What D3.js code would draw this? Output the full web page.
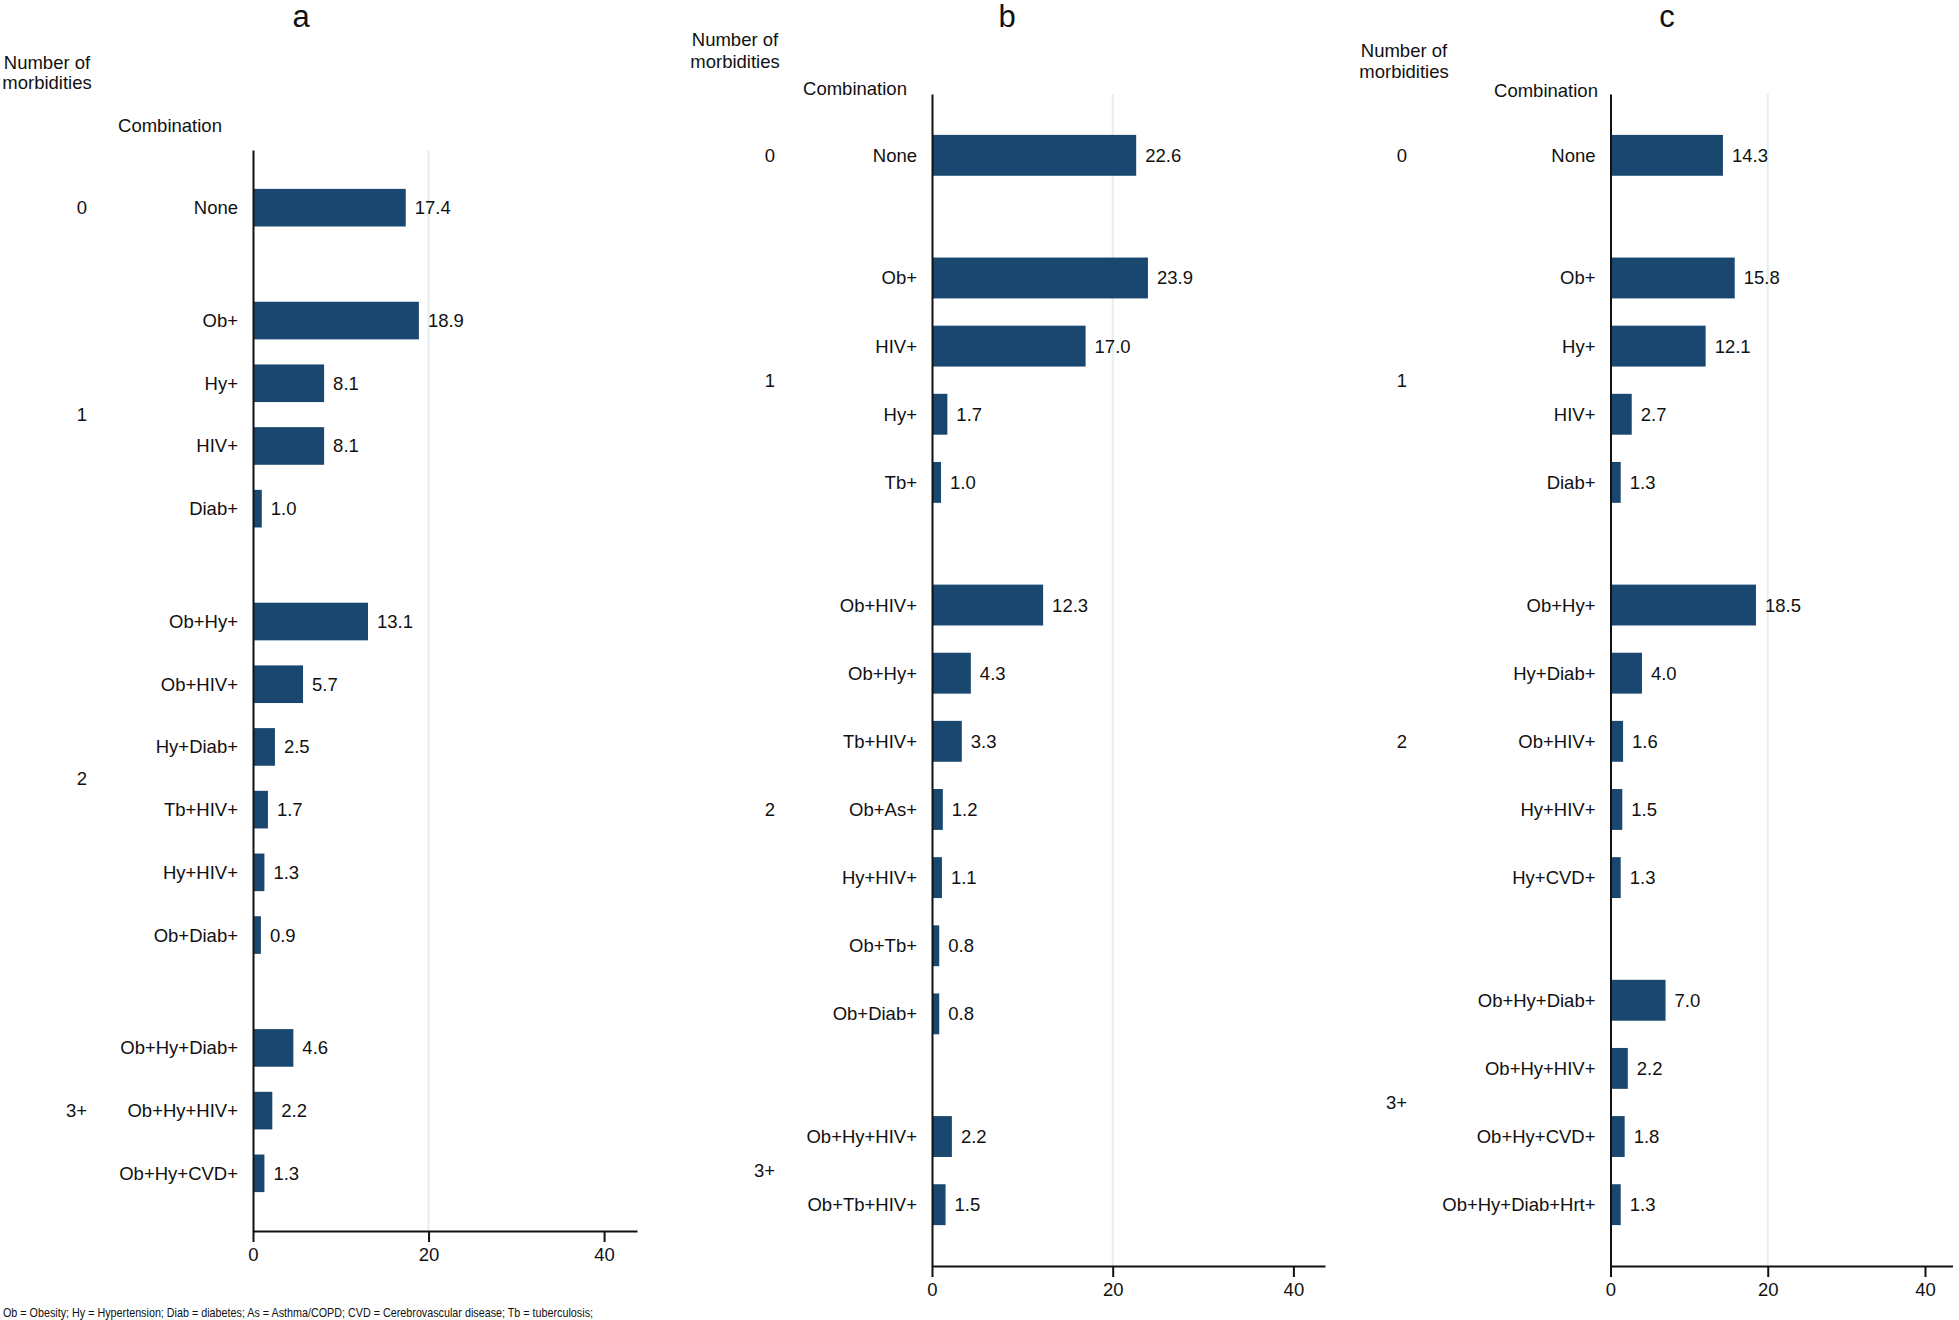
<!DOCTYPE html>
<html><head><meta charset="utf-8">
<script src="https://cdn.jsdelivr.net/npm/d3@7"></script>
<style>
body{margin:0;background:#fff}
svg{display:block}
text{font-family:"Liberation Sans",Arial,Helvetica,sans-serif;fill:#111}
</style>
</head><body>
<svg id="chart" width="1959" height="1320"></svg>
<script>
// ---------- data ----------
const groupLabels = ["0", "1", "2", "3+"];
const xTicks = [0, 20, 40];

const aCombos = ["None", "Ob+", "Hy+", "HIV+", "Diab+", "Ob+Hy+", "Ob+HIV+", "Hy+Diab+", "Tb+HIV+", "Hy+HIV+", "Ob+Diab+", "Ob+Hy+Diab+", "Ob+Hy+HIV+", "Ob+Hy+CVD+"];
const aGroups = [0, 1, 1, 1, 1, 2, 2, 2, 2, 2, 2, 3, 3, 3];
const aValues = [17.4, 18.9, 8.1, 8.1, 1.0, 13.1, 5.7, 2.5, 1.7, 1.3, 0.9, 4.6, 2.2, 1.3];

const bCombos = ["None", "Ob+", "HIV+", "Hy+", "Tb+", "Ob+HIV+", "Ob+Hy+", "Tb+HIV+", "Ob+As+", "Hy+HIV+", "Ob+Tb+", "Ob+Diab+", "Ob+Hy+HIV+", "Ob+Tb+HIV+"];
const bGroups = [0, 1, 1, 1, 1, 2, 2, 2, 2, 2, 2, 2, 3, 3];
const bValues = [22.6, 23.9, 17.0, 1.7, 1.0, 12.3, 4.3, 3.3, 1.2, 1.1, 0.8, 0.8, 2.2, 1.5];

const cCombos = ["None", "Ob+", "Hy+", "HIV+", "Diab+", "Ob+Hy+", "Hy+Diab+", "Ob+HIV+", "Hy+HIV+", "Hy+CVD+", "Ob+Hy+Diab+", "Ob+Hy+HIV+", "Ob+Hy+CVD+", "Ob+Hy+Diab+Hrt+"];
const cGroups = [0, 1, 1, 1, 1, 2, 2, 2, 2, 2, 3, 3, 3, 3];
const cValues = [14.3, 15.8, 12.1, 2.7, 1.3, 18.5, 4.0, 1.6, 1.5, 1.3, 7.0, 2.2, 1.8, 1.3];

const panelTitles = ["a", "b", "c"];
const headerNumber = ["Number of", "morbidities"];
const headerCombination = "Combination";
const footnote = "Ob = Obesity; Hy = Hypertension; Diab = diabetes; As = Asthma/COPD; CVD = Cerebrovascular disease; Tb = tuberculosis;";

// ---------- layout ----------
const BAR = "#1a476f";
const GRID = "#e2eeef";
const FS = 18.5;

const layouts = [
  {x0: 253, x1: 637, xMax: 43.75, yTop: 150, yBot: 1231, pad: 0.92,
   titleX: 301, titleY: 16, numX: 47, numY: [63, 83], combX: 170, combY: 126, grpX: 87},
  {x0: 932, x1: 1325, xMax: 43.5, yTop: 94, yBot: 1266, pad: 0.9,
   titleX: 1007, titleY: 16, numX: 735, numY: [40, 62], combX: 855, combY: 89, grpX: 775},
  {x0: 1610.5, x1: 1952.5, xMax: 43.5, yTop: 94, yBot: 1266, pad: 0.9,
   titleX: 1667, titleY: 16, numX: 1404, numY: [51, 72], combX: 1546, combY: 91, grpX: 1407}
];
const GAP = 0.8;   // extra space between groups, in row units

const svg = d3.select("#chart");

function drawPanel(L, title, combos, groups, values) {
  const g = svg.append("g");
  const rows = combos.map((c, i) => ({combo: c, group: groups[i], value: values[i], pos: i + GAP * groups[i]}));
  const maxPos = d3.max(rows, d => d.pos);

  const x = d3.scaleLinear().domain([0, L.xMax]).range([L.x0, L.x1]);
  const y = d3.scaleLinear().domain([-L.pad, maxPos + L.pad]).range([L.yTop, L.yBot]);
  const unit = y(1) - y(0);
  const bh = unit * 0.6;

  // gridline(s)
  g.selectAll("line.grid").data(xTicks.filter(t => t > 0 && t < 30)).join("line")
    .attr("x1", d => x(d)).attr("x2", d => x(d))
    .attr("y1", L.yTop).attr("y2", L.yBot)
    .attr("stroke", GRID).attr("stroke-width", 2);

  // bars
  g.selectAll("rect.bar").data(rows).join("rect")
    .attr("x", x(0)).attr("y", d => y(d.pos) - bh / 2)
    .attr("width", d => x(d.value) - x(0)).attr("height", bh)
    .attr("fill", BAR);

  // value labels
  g.selectAll("text.val").data(rows).join("text")
    .attr("x", d => x(d.value) + 9).attr("y", d => y(d.pos))
    .attr("dy", "0.35em").attr("font-size", FS)
    .text(d => d3.format(".1f")(d.value));

  // category labels
  g.selectAll("text.cat").data(rows).join("text")
    .attr("x", x(0) - 15).attr("y", d => y(d.pos))
    .attr("dy", "0.35em").attr("text-anchor", "end").attr("font-size", FS)
    .text(d => d.combo);

  // group labels
  const grp = d3.groups(rows, d => d.group).map(([k, arr]) => ({
    label: groupLabels[k],
    pos: (d3.min(arr, d => d.pos) + d3.max(arr, d => d.pos)) / 2
  }));
  g.selectAll("text.grp").data(grp).join("text")
    .attr("x", L.grpX).attr("y", d => y(d.pos))
    .attr("dy", "0.35em").attr("text-anchor", "end").attr("font-size", FS)
    .text(d => d.label);

  // x axis
  const xa = g.append("g").attr("transform", `translate(0,${L.yBot})`)
    .call(d3.axisBottom(x).tickValues(xTicks).tickSize(11).tickSizeOuter(0).tickPadding(6).tickFormat(d3.format("d")));
  xa.select(".domain").attr("stroke", "#111").attr("stroke-width", 2);
  xa.selectAll(".tick line").attr("stroke", "#111").attr("stroke-width", 2);
  xa.selectAll(".tick text").attr("font-size", FS).attr("font-family", "Liberation Sans, Arial, sans-serif").attr("fill", "#111");

  // y axis (vertical baseline)
  const ya = g.append("g").attr("transform", `translate(${x(0)},0)`)
    .call(d3.axisLeft(y).tickValues([]).tickSizeOuter(0));
  ya.select(".domain").attr("stroke", "#111").attr("stroke-width", 2);

  // headers
  g.append("text").attr("x", L.titleX).attr("y", L.titleY).attr("dy", "0.35em")
    .attr("text-anchor", "middle").attr("font-size", 31).text(title);
  g.selectAll("text.num").data(headerNumber).join("text")
    .attr("x", L.numX).attr("y", (d, i) => L.numY[i]).attr("dy", "0.35em")
    .attr("text-anchor", "middle").attr("font-size", FS).text(d => d);
  g.append("text").attr("x", L.combX).attr("y", L.combY).attr("dy", "0.35em")
    .attr("text-anchor", "middle").attr("font-size", FS).text(headerCombination);
}

drawPanel(layouts[0], panelTitles[0], aCombos, aGroups, aValues);
drawPanel(layouts[1], panelTitles[1], bCombos, bGroups, bValues);
drawPanel(layouts[2], panelTitles[2], cCombos, cGroups, cValues);

svg.append("text").attr("x", 3).attr("y", 1312).attr("dy", "0.35em")
  .attr("font-size", 13).attr("textLength", 590).attr("lengthAdjust", "spacingAndGlyphs")
  .text(footnote);
</script>
</body></html>
